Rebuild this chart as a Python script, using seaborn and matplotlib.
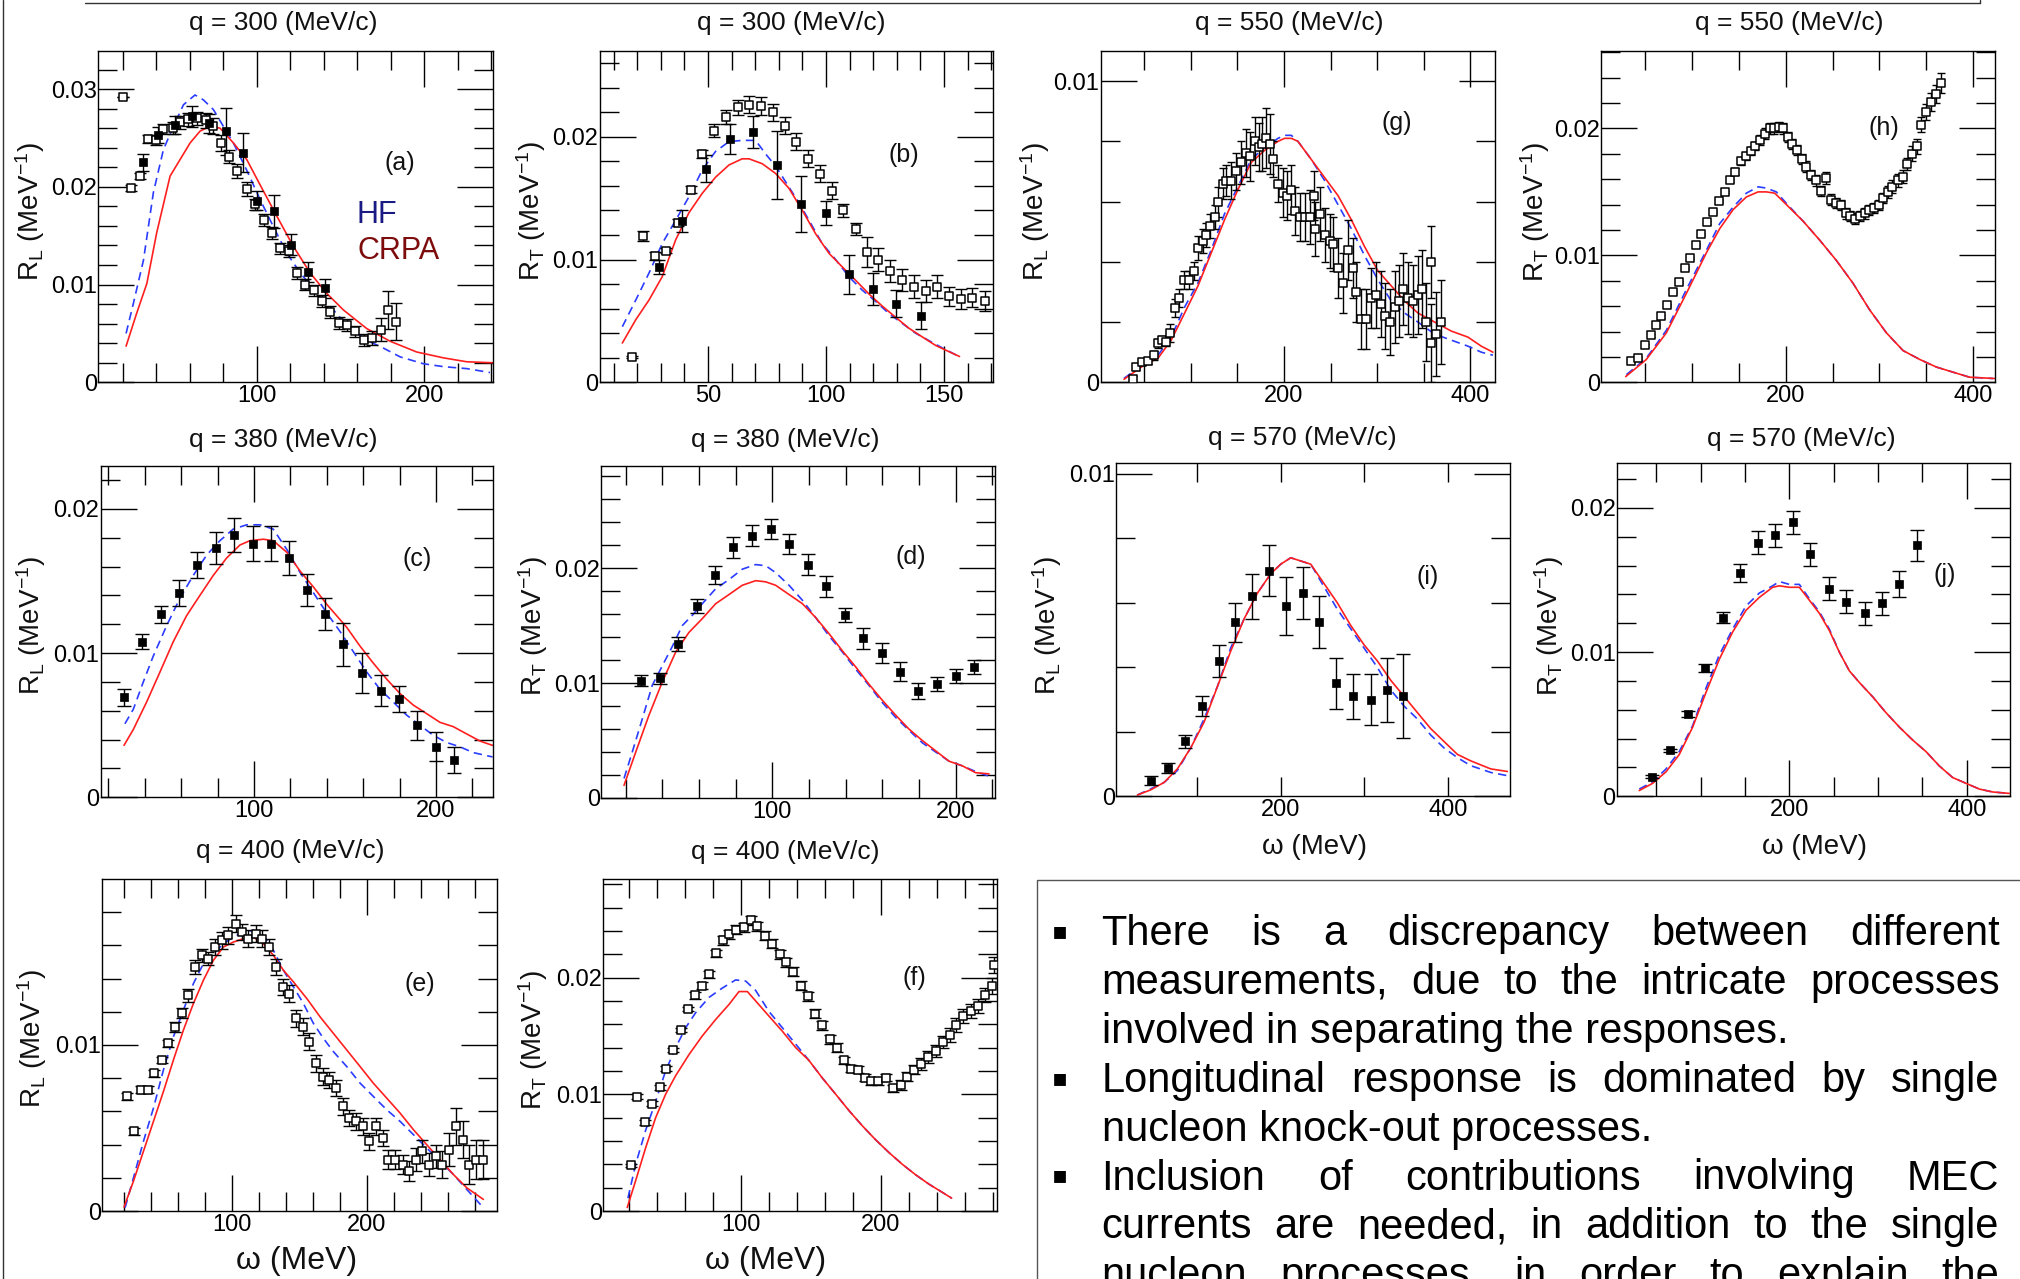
import numpy as np
import pandas as pd
import matplotlib
matplotlib.use("Agg")
import matplotlib.pyplot as plt
from matplotlib.transforms import IdentityTransform
from matplotlib.lines import Line2D
from matplotlib.ticker import MultipleLocator, FuncFormatter
import seaborn as sns

# ---------------------------------------------------------------- data
# (a) q=300 R_L
a_open_x = [20, 25, 30, 35, 40, 44, 50, 54, 59, 64.5, 69.5, 74, 78.5, 83.7, 88.4, 94, 99, 104.4, 109, 114, 119, 124, 129, 134, 139, 144, 149, 154, 159, 164, 169, 174, 178.5, 183.5]
a_open_y = [0.0292, 0.0199, 0.0211, 0.0249, 0.0248, 0.0259, 0.0260, 0.0266, 0.0269, 0.0270, 0.0268, 0.0262, 0.0245, 0.0231, 0.0216, 0.0198, 0.0182, 0.0166, 0.0153, 0.0137, 0.0134, 0.0112, 0.0100, 0.0094, 0.0083, 0.0072, 0.0061, 0.0059, 0.0052, 0.0043, 0.0045, 0.0054, 0.0074, 0.0062]
a_open_e = [0.0, 0.0003, 0.0003, 0.0004, 0.0005, 0.0005, 0.0006, 0.0007, 0.0007, 0.0007, 0.0008, 0.0008, 0.0008, 0.0007, 0.0007, 0.0007, 0.0006, 0.0006, 0.0006, 0.0006, 0.0006, 0.0006, 0.0006, 0.0006, 0.0006, 0.0006, 0.0006, 0.0006, 0.0006, 0.0006, 0.0007, 0.0012, 0.0019, 0.0019]
a_fill_x = [32, 41, 51, 61, 71.5, 81.5, 91.5, 100, 110.5, 120.5, 130.5, 141]
a_fill_y = [0.0225, 0.0253, 0.0263, 0.0272, 0.0265, 0.0257, 0.0235, 0.0186, 0.0175, 0.0141, 0.0113, 0.0096]
a_fill_e = [0.0009, 0.0008, 0.0009, 0.0011, 0.0010, 0.0024, 0.0020, 0.0010, 0.0017, 0.0011, 0.0010, 0.0010]
a_hf_x = [21.9, 26.3, 32.3, 38.2, 44.2, 50.2, 56.2, 63.1, 68.1, 74.1, 80, 86, 94, 102, 110, 118, 126, 136, 145.8, 155.8, 165.7, 175.7, 185.7, 199.6, 211.6, 225.5, 239.4]
a_hf_y = [0.0050, 0.0081, 0.0125, 0.0194, 0.0238, 0.0262, 0.0284, 0.0294, 0.0289, 0.0279, 0.0262, 0.0245, 0.0217, 0.0187, 0.0159, 0.0132, 0.0112, 0.0091, 0.0074, 0.0055, 0.0043, 0.0035, 0.0026, 0.0019, 0.0016, 0.0014, 0.0010]
a_rpa_x = [21.9, 28.3, 34.3, 40.2, 48.2, 54.2, 60.2, 66.1, 72.1, 78.1, 86, 94, 102, 112, 121.9, 131.9, 141.8, 151.8, 165.7, 179.7, 195.6, 211.6, 225.5, 241]
a_rpa_y = [0.0037, 0.0071, 0.0101, 0.0153, 0.0211, 0.0228, 0.0245, 0.0257, 0.0262, 0.0260, 0.0245, 0.0228, 0.0202, 0.0170, 0.0139, 0.0112, 0.0091, 0.0074, 0.0055, 0.0042, 0.0031, 0.0025, 0.0021, 0.0020]

# (b) q=300 R_T
b_open_x = [17.7, 22.5, 27.4, 32.3, 37.3, 42.7, 47.3, 52.4, 57.5, 62.6, 67.4, 72.5, 77.5, 82.5, 87.4, 92.5, 97.3, 102.4, 107.3, 112.6, 117.5, 122.2, 127.1, 132.3, 137.3, 142.2, 147.2, 152.1, 157.1, 162.0, 167.2]
b_open_y = [0.00204, 0.01194, 0.0103, 0.0107, 0.0130, 0.0157, 0.0186, 0.0205, 0.0216, 0.0224, 0.0226, 0.0225, 0.0220, 0.0209, 0.0196, 0.0182, 0.0170, 0.0156, 0.0140, 0.0125, 0.0106, 0.0100, 0.0091, 0.0083, 0.0078, 0.0074, 0.0078, 0.0070, 0.0068, 0.0069, 0.0066]
b_open_e = [0.0001, 0.0004, 0.0003, 0.0002, 0.0003, 0.0003, 0.0003, 0.0005, 0.0006, 0.0006, 0.0007, 0.0007, 0.0007, 0.0007, 0.0007, 0.0007, 0.0007, 0.0007, 0.0005, 0.0005, 0.0012, 0.0009, 0.0009, 0.0009, 0.0009, 0.0009, 0.0009, 0.0008, 0.0008, 0.0008, 0.0008]
b_fill_x = [29.2, 39.1, 49.3, 59.3, 69.2, 79.1, 89.3, 99.9, 109.7, 120.1, 129.8, 140.1]
b_fill_y = [0.0094, 0.0131, 0.0174, 0.0198, 0.0204, 0.0177, 0.0145, 0.0138, 0.0088, 0.0076, 0.0064, 0.0054]
b_fill_e = [0.0006, 0.0009, 0.0011, 0.0012, 0.0013, 0.0028, 0.0023, 0.0010, 0.0016, 0.0013, 0.0011, 0.0011]
b_hf_x = [13.7, 19.4, 25.0, 30.6, 36.3, 41.9, 47.6, 53.2, 58.9, 64.5, 70.2, 74.4, 78.7, 84.3, 88.6, 92.8, 98.4, 104.1, 109.7, 115.4, 121, 126.7, 132.3, 138, 143.6, 149.3, 156.4]
b_hf_y = [0.00453, 0.0067, 0.0089, 0.0113, 0.0132, 0.0151, 0.0173, 0.0188, 0.0196, 0.0197, 0.0197, 0.0186, 0.0176, 0.0159, 0.0146, 0.0132, 0.0113, 0.0100, 0.0086, 0.0075, 0.0066, 0.0056, 0.0048, 0.0040, 0.0034, 0.0028, 0.0021]
b_rpa_x = [13.7, 19.4, 25, 30.6, 36.3, 41.9, 47.6, 53.2, 58.9, 64.5, 67.4, 73, 78.7, 84.3, 90, 95.6, 101.3, 106.9, 112.6, 118.2, 123.9, 129.5, 135.2, 140.8, 146.5, 152.1, 156.6]
b_rpa_y = [0.0032, 0.0051, 0.0067, 0.0086, 0.0116, 0.0138, 0.0154, 0.0167, 0.0177, 0.0182, 0.0182, 0.0178, 0.0170, 0.0158, 0.0140, 0.0121, 0.0105, 0.0094, 0.0083, 0.0072, 0.0062, 0.0053, 0.0044, 0.0037, 0.0030, 0.0025, 0.0021]

# (g) q=550 R_L
g_open_x = [38, 41.5, 47.6, 54, 60.5, 64.8, 69.4, 73, 78, 83.4, 86.9, 92.3, 97.7, 103, 107.7, 113, 116.6, 120.9, 125.6, 129.2, 134.5, 138.1, 143.5, 148.8, 154.2, 159.6, 163.9, 168.5, 172.8, 176.7, 181, 184.6, 188.2, 193.6, 198.9, 203.6, 207.9, 211.4, 216.8, 222.2, 227.5, 232.2, 233, 238.3, 243.6, 249, 252.6, 258, 263.3, 268.7, 274, 277.6, 283, 288.4, 293.7, 299.1, 304.5, 308, 313.4, 318.7, 323.4, 327.7, 333, 338.5, 343.8, 348.5, 352.8, 357.4, 358.1, 363.5, 368.2]
g_open_y = [0.0001, 0.0005, 0.00066, 0.0007, 0.0009, 0.0013, 0.0014, 0.00135, 0.00165, 0.00246, 0.0028, 0.0034, 0.0034, 0.0037, 0.00445, 0.0047, 0.0049, 0.0052, 0.0055, 0.0060, 0.0066, 0.0067, 0.0067, 0.0070, 0.0073, 0.0076, 0.0075, 0.0080, 0.0078, 0.0079, 0.0081, 0.0079, 0.0074, 0.0066, 0.0063, 0.0062, 0.0064, 0.0057, 0.0055, 0.0055, 0.0055, 0.0062, 0.0051, 0.0056, 0.0049, 0.0047, 0.0046, 0.0038, 0.0033, 0.0044, 0.0038, 0.0030, 0.0021, 0.0021, 0.0028, 0.0029, 0.0026, 0.0022, 0.0020, 0.0025, 0.0027, 0.0031, 0.0028, 0.0027, 0.0029, 0.0031, 0.0020, 0.0040, 0.0013, 0.0016, 0.0020]
g_open_e = [0.0001, 0.0001, 0.0001, 0.0001, 0.00015, 0.00015, 0.00015, 0.00015, 0.0003, 0.0003, 0.0003, 0.0003, 0.0003, 0.0003, 0.0004, 0.0004, 0.0004, 0.0004, 0.0004, 0.0005, 0.0005, 0.0005, 0.0006, 0.0006, 0.0007, 0.0008, 0.0008, 0.0008, 0.0008, 0.0009, 0.0010, 0.0010, 0.0006, 0.0006, 0.0008, 0.0008, 0.0008, 0.0008, 0.0008, 0.0008, 0.0009, 0.0008, 0.0009, 0.0009, 0.0009, 0.0009, 0.0009, 0.0010, 0.0010, 0.0010, 0.0010, 0.0010, 0.0010, 0.0010, 0.0010, 0.0011, 0.0011, 0.0011, 0.0011, 0.0012, 0.0012, 0.0012, 0.0012, 0.0012, 0.0013, 0.0013, 0.0013, 0.0012, 0.0013, 0.0014, 0.0014]
g_hf_x = [28.3, 50.4, 64.8, 79, 93.4, 107.7, 122, 136.3, 150.6, 164.9, 179.2, 193.6, 200.7, 207.9, 215, 229.3, 243.6, 258, 272.3, 286.6, 300.9, 315.2, 329.5, 343.8, 361.7, 379.6, 397.5, 411.8, 424.3]
g_hf_y = [0.00013, 0.00063, 0.0009, 0.0015, 0.0025, 0.0033, 0.0044, 0.0056, 0.0065, 0.0074, 0.0078, 0.0081, 0.0082, 0.0082, 0.0080, 0.0074, 0.0067, 0.0059, 0.0051, 0.0042, 0.0034, 0.0027, 0.0023, 0.0020, 0.0016, 0.0014, 0.0012, 0.0010, 0.0009]
g_rpa_x = [28.3, 50.4, 64.8, 79, 93.4, 107.7, 122, 136.3, 150.6, 164.9, 179.2, 193.6, 200.7, 207.9, 215, 229.3, 243.6, 258, 272.3, 286.6, 300.9, 315.2, 329.5, 343.8, 361.7, 379.6, 397.5, 411.8, 424.3]
g_rpa_y = [0.0001, 0.00058, 0.0008, 0.0014, 0.0023, 0.0032, 0.0043, 0.0054, 0.0064, 0.0073, 0.0077, 0.0080, 0.0081, 0.0081, 0.0080, 0.0074, 0.0068, 0.0062, 0.0054, 0.0045, 0.0037, 0.0032, 0.0027, 0.0023, 0.0020, 0.0017, 0.0015, 0.0012, 0.0010]

# (h) q=550 R_T
h_open_x = [35.2, 42.3, 49.5, 55.9, 61.9, 67.3, 73.3, 79.7, 85.8, 92.2, 98.2, 103.9, 110, 116, 122.4, 128.5, 134.9, 140.2, 145.6, 152.7, 158, 163.3, 167.6, 172.2, 177.6, 182.9, 187.5, 192.5, 197.2, 202.5, 207.1, 212.1, 217.1, 222.1, 227.4, 232.7, 238.1, 242.7, 248, 254.1, 259.4, 264.1, 269, 274.4, 279, 284.3, 289, 294, 299.3, 303.9, 309.3, 313.9, 319.9, 325.3, 329.9, 335.2, 340.2, 344.8, 350.2, 355.5, 360.9, 366.2]
h_open_y = [0.0017, 0.0019, 0.0029, 0.0037, 0.0045, 0.0052, 0.0061, 0.0071, 0.0079, 0.0090, 0.0098, 0.0108, 0.0117, 0.0126, 0.0134, 0.0143, 0.0150, 0.0159, 0.0166, 0.0174, 0.0178, 0.0182, 0.0186, 0.0191, 0.0196, 0.0200, 0.0200, 0.0201, 0.0200, 0.0193, 0.0188, 0.0183, 0.0176, 0.0170, 0.0163, 0.0159, 0.0151, 0.0161, 0.0144, 0.0141, 0.0140, 0.0133, 0.0131, 0.0129, 0.0131, 0.0133, 0.0136, 0.0137, 0.0140, 0.0145, 0.0150, 0.0154, 0.0159, 0.0162, 0.0172, 0.0180, 0.0186, 0.0203, 0.0213, 0.0221, 0.0227, 0.0236]
h_open_e = [0.0001] * 18 + [0.0003, 0.0003, 0.0003, 0.0003, 0.0003, 0.0004, 0.0004, 0.0004, 0.0004, 0.0004, 0.0004, 0.0004, 0.0004, 0.0004, 0.0004, 0.0004, 0.0004, 0.0004, 0.0004, 0.0005, 0.0004, 0.0004, 0.0004, 0.0004, 0.0004, 0.0004, 0.0004, 0.0004, 0.0004, 0.0004, 0.0004, 0.0004, 0.0005, 0.0005, 0.0005, 0.0005, 0.0005, 0.0006, 0.0006, 0.0006, 0.0006, 0.0007, 0.0007, 0.0008]
h_hf_x = [29.9, 51.2, 72.6, 93.9, 115.3, 129.5, 143.8, 158, 170.5, 179.4, 190, 200.7, 218.5, 236.3, 254.1, 271.9, 289.7, 307.5, 325.3, 343.1, 360.9, 378.6, 396.4, 421.4]
h_hf_y = [0.0006, 0.0019, 0.0041, 0.0073, 0.0104, 0.0125, 0.0138, 0.0149, 0.0154, 0.0153, 0.0150, 0.0141, 0.0127, 0.0112, 0.0096, 0.0078, 0.0057, 0.0039, 0.0025, 0.0018, 0.0012, 0.0008, 0.0004, 0.0003]
h_rpa_x = [29.2, 51.2, 72.6, 93.9, 115.3, 129.5, 143.8, 158, 170.5, 179.4, 188.3, 200.7, 218.5, 236.3, 254.1, 271.9, 289.7, 307.5, 325.3, 343.1, 360.9, 378.6, 396.4, 423]
h_rpa_y = [0.00045, 0.0018, 0.0039, 0.0070, 0.0102, 0.0121, 0.0136, 0.0146, 0.0150, 0.0150, 0.0149, 0.0140, 0.0127, 0.0112, 0.0096, 0.0078, 0.0057, 0.0039, 0.0025, 0.0018, 0.0012, 0.0008, 0.0004, 0.0003]

# (c) q=380 R_L
c_fill_x = [28.6, 38.6, 48.7, 58.8, 68.9, 79.1, 89.2, 99.6, 109.2, 119.2, 128.9, 139, 149.1, 159.5, 169.6, 179.7, 189.7, 199.8, 209.9]
c_fill_y = [0.00694, 0.0108, 0.0127, 0.0142, 0.0161, 0.0173, 0.0182, 0.0176, 0.0176, 0.0166, 0.0144, 0.0127, 0.0106, 0.0086, 0.0074, 0.0068, 0.0050, 0.0035, 0.0026]
c_fill_e = [0.0006, 0.0005, 0.0006, 0.0009, 0.0009, 0.0011, 0.0012, 0.0012, 0.0012, 0.0012, 0.0011, 0.0011, 0.0015, 0.0014, 0.0011, 0.0009, 0.0010, 0.0010, 0.0009]
c_hf_x = [29.1, 33.7, 39.2, 44.7, 52, 59.3, 66.7, 74, 81.3, 88.6, 96, 103.3, 110.6, 118, 125.3, 132.6, 139.9, 147.3, 154.6, 161.9, 169.2, 176.6, 183.9, 191.2, 198.5, 205.9, 213.2, 220.5, 231.1]
c_hf_y = [0.0051, 0.0061, 0.0080, 0.0098, 0.0119, 0.0138, 0.0154, 0.0168, 0.0178, 0.0186, 0.0189, 0.0189, 0.0186, 0.0172, 0.0156, 0.0142, 0.0128, 0.0115, 0.0101, 0.0087, 0.0075, 0.0066, 0.0057, 0.0050, 0.0043, 0.0038, 0.0035, 0.0031, 0.0028]
c_rpa_x = [28.6, 33.7, 41, 48.4, 55.7, 63, 70.3, 77.7, 85, 92.3, 97.8, 105.1, 110.6, 118, 125.3, 132.6, 139.9, 150.9, 158.2, 165.6, 172.9, 180.2, 187.5, 194.9, 202.2, 209.5, 216.8, 224.2, 231.1]
c_rpa_y = [0.0036, 0.0047, 0.0066, 0.0087, 0.0108, 0.0126, 0.0140, 0.0154, 0.0166, 0.0175, 0.0178, 0.0179, 0.0178, 0.0170, 0.0157, 0.0146, 0.0134, 0.0118, 0.0105, 0.0093, 0.0082, 0.0072, 0.0064, 0.0058, 0.0052, 0.0049, 0.0044, 0.0039, 0.0036]

# (d) q=380 R_T
d_fill_x = [28.5, 38.5, 48.7, 58.7, 68.7, 78.7, 89.1, 99.1, 109.1, 119.5, 129.5, 139.5, 149.5, 159.6, 169.6, 179.6, 189.6, 200, 210]
d_fill_y = [0.0102, 0.0104, 0.0134, 0.0167, 0.0194, 0.0218, 0.0228, 0.0234, 0.0221, 0.0203, 0.0184, 0.0159, 0.0139, 0.0126, 0.0110, 0.0093, 0.0099, 0.0106, 0.0114]
d_fill_e = [0.0005, 0.0005, 0.0006, 0.0006, 0.0008, 0.0009, 0.0009, 0.0009, 0.0009, 0.0009, 0.0009, 0.0006, 0.0009, 0.0009, 0.0008, 0.0007, 0.0006, 0.0006, 0.0006]
d_hf_x = [19.1, 23.6, 29.1, 34.5, 40, 45.5, 50.9, 56.4, 61.8, 69.1, 76.4, 83.6, 90.9, 96.4, 101.8, 109.1, 116.4, 123.6, 130.9, 138.2, 145.5, 152.7, 160, 167.3, 174.5, 181.8, 189.1, 196.4, 203.6, 210.9, 220]
d_hf_y = [0.0017, 0.0040, 0.0069, 0.0098, 0.0115, 0.0132, 0.0150, 0.0159, 0.0169, 0.0182, 0.0190, 0.0199, 0.0203, 0.0202, 0.0196, 0.0185, 0.0172, 0.0157, 0.0141, 0.0127, 0.0112, 0.0098, 0.0083, 0.0070, 0.0059, 0.0048, 0.0040, 0.0032, 0.0028, 0.0023, 0.0018]
d_rpa_x = [19.1, 25.5, 32.7, 40, 47.3, 54.5, 61.8, 69.1, 76.4, 83.6, 90.9, 96.4, 101.8, 109.1, 116.4, 123.6, 130.9, 138.2, 145.5, 152.7, 160, 167.3, 174.5, 181.8, 189.1, 196.4, 203.6, 210.9, 218.2]
d_rpa_y = [0.0011, 0.0040, 0.0072, 0.0101, 0.0127, 0.0144, 0.0156, 0.0169, 0.0177, 0.0185, 0.0189, 0.0188, 0.0185, 0.0177, 0.0169, 0.0157, 0.0143, 0.0128, 0.0114, 0.0099, 0.0085, 0.0072, 0.0060, 0.0050, 0.0041, 0.0032, 0.0028, 0.0022, 0.0021]

# (i) q=570 R_L
i_fill_x = [44.6, 65.3, 85.7, 105.6, 125.9, 145.4, 165.7, 186.1, 206.8, 226.7, 245.8, 266.5, 286.5, 307.6, 327.5, 346.2]
i_fill_y = [0.00049, 0.00088, 0.0017, 0.0028, 0.0042, 0.0054, 0.0062, 0.0070, 0.0059, 0.0063, 0.0054, 0.0035, 0.0031, 0.0030, 0.0033, 0.0031]
i_fill_e = [0.00013, 0.00015, 0.0002, 0.0003, 0.0005, 0.0006, 0.0007, 0.0008, 0.0009, 0.0008, 0.0008, 0.0008, 0.0007, 0.0008, 0.0010, 0.0013]
i_hf_x = [28.7, 44.6, 60.6, 76.5, 92.4, 108.4, 124.3, 140.2, 156.2, 172.1, 188, 200, 212, 223.9, 235.9, 251.8, 267.7, 283.7, 299.6, 315.5, 331.5, 347.4, 363.3, 379.3, 395.2, 411.2, 427.1, 451, 470.9]
i_hf_y = [0.00004, 0.00023, 0.00043, 0.0008, 0.0015, 0.0024, 0.0034, 0.0046, 0.0055, 0.0063, 0.0069, 0.0072, 0.0074, 0.0073, 0.0072, 0.0065, 0.0058, 0.0052, 0.0046, 0.0040, 0.0033, 0.0028, 0.0024, 0.0019, 0.0015, 0.0012, 0.00095, 0.00074, 0.00064]
i_rpa_x = [28.7, 44.6, 60.6, 76.5, 92.4, 108.4, 124.3, 140.2, 156.2, 172.1, 188, 200, 212, 235.9, 251.8, 267.7, 283.7, 299.6, 315.5, 331.5, 347.4, 363.3, 379.3, 395.2, 411.2, 427.1, 451, 470.9]
i_rpa_y = [0.00004, 0.0002, 0.00043, 0.00085, 0.0015, 0.0023, 0.0034, 0.0045, 0.0055, 0.0063, 0.0069, 0.0072, 0.0074, 0.0072, 0.0066, 0.0060, 0.0053, 0.0047, 0.0042, 0.0036, 0.0031, 0.0026, 0.0021, 0.0017, 0.0013, 0.0011, 0.00085, 0.00077]

# (j) q=570 R_T
j_fill_x = [45.1, 65.8, 85.3, 105.3, 125.6, 144.4, 165, 183.8, 204.5, 223.7, 244.4, 263.9, 285.3, 304.1, 324.1, 343.6]
j_fill_y = [0.00137, 0.0032, 0.0057, 0.0089, 0.0124, 0.0155, 0.0176, 0.0181, 0.0190, 0.0168, 0.0144, 0.0135, 0.0127, 0.0134, 0.0147, 0.0174]
j_fill_e = [0.0001, 0.0001, 0.0002, 0.0003, 0.0004, 0.0006, 0.0008, 0.0008, 0.0008, 0.0008, 0.0008, 0.0008, 0.0008, 0.0008, 0.0009, 0.0011]
j_hf_x = [30.8, 45.9, 61, 75.9, 91, 106, 121, 136.1, 151.1, 166.2, 181.2, 188.7, 200, 211.3, 222.6, 233.8, 245.1, 256.4, 267.7, 278.9, 294, 309, 324.1, 339.1, 354.1, 369.2, 384.2, 399.2, 414.3, 429.3, 448.1]
j_hf_y = [0.0005, 0.0010, 0.0019, 0.0031, 0.0049, 0.0075, 0.0098, 0.0116, 0.0132, 0.0141, 0.0146, 0.0149, 0.0147, 0.0147, 0.0137, 0.0128, 0.0116, 0.0100, 0.0087, 0.0079, 0.0069, 0.0058, 0.0048, 0.0039, 0.0031, 0.0021, 0.0013, 0.0009, 0.0005, 0.0003, 0.0002]
j_rpa_x = [30.8, 45.9, 61, 75.9, 91, 106, 121, 136.1, 151.1, 166.2, 181.2, 188.7, 200, 211.3, 222.6, 233.8, 245.1, 256.4, 267.7, 278.9, 294, 309, 324.1, 339.1, 354.1, 369.2, 384.2, 399.2, 414.3, 429.3, 448.1]
j_rpa_y = [0.0004, 0.0009, 0.0017, 0.0029, 0.0048, 0.0072, 0.0095, 0.0114, 0.0129, 0.0138, 0.0145, 0.0146, 0.0145, 0.0145, 0.0136, 0.0127, 0.0115, 0.0100, 0.0087, 0.0079, 0.0069, 0.0058, 0.0048, 0.0039, 0.0031, 0.0021, 0.0013, 0.0009, 0.0005, 0.0003, 0.0002]

# (e) q=400 R_L
e_open_x = [22.7, 27.9, 32.6, 38.3, 42.7, 48.1, 53.1, 58, 63, 67.9, 72.8, 77.8, 82.7, 87.7, 92.6, 97.5, 103, 107.9, 112.3, 117.8, 122.7, 127.9, 132.6, 137.8, 142.7, 147.7, 152.6, 157.5, 162.5, 167.4, 172.3, 177.3, 182.2, 187.2, 192.1, 197, 202, 206.9, 211.9, 216, 221, 226.7, 231.4, 236.3, 241.2, 246.2, 251.1, 256, 261, 266.2, 271.1, 276, 281, 285.9]
e_open_y = [0.0069, 0.0048, 0.0073, 0.0073, 0.0083, 0.0091, 0.0101, 0.0111, 0.0119, 0.0130, 0.0147, 0.0154, 0.0152, 0.0159, 0.0163, 0.0166, 0.0173, 0.0168, 0.0164, 0.0167, 0.0164, 0.0159, 0.0147, 0.0135, 0.0131, 0.0116, 0.0111, 0.0102, 0.0089, 0.0081, 0.0079, 0.0074, 0.0063, 0.0056, 0.0054, 0.0051, 0.0042, 0.0051, 0.0044, 0.0031, 0.0031, 0.0028, 0.0024, 0.0031, 0.0036, 0.0028, 0.0033, 0.0028, 0.0037, 0.0051, 0.0043, 0.0028, 0.0031, 0.0031]
e_open_e = [0.0002, 0.0002, 0.0002, 0.0002, 0.0002, 0.0002, 0.0002, 0.0003, 0.0003, 0.0004, 0.0004, 0.0004, 0.0004, 0.0005, 0.0005, 0.0005, 0.0005, 0.0005, 0.0005, 0.0005, 0.0005, 0.0005, 0.0005, 0.0005, 0.0005, 0.0005, 0.0005, 0.0005, 0.0005, 0.0005, 0.0005, 0.0005, 0.0005, 0.0005, 0.0005, 0.0005, 0.0005, 0.0005, 0.0005, 0.0006, 0.0006, 0.0006, 0.0006, 0.0007, 0.0007, 0.0007, 0.0007, 0.0008, 0.0010, 0.0011, 0.0011, 0.0012, 0.0012, 0.0012]
e_hf_x = [21, 27.2, 34.6, 42, 49.4, 56.8, 64.2, 71.6, 79, 86.4, 93.8, 101.2, 108.6, 116, 123.5, 130.9, 138.3, 145.7, 153.1, 160.5, 167.9, 175.3, 185.2, 195.1, 204.9, 214.8, 224.7, 234.6, 244.4, 254.3, 264.2, 274.1, 286.4]
e_hf_y = [0.0002, 0.0020, 0.0042, 0.0062, 0.0085, 0.0105, 0.0121, 0.0137, 0.0149, 0.0155, 0.0161, 0.0165, 0.0168, 0.0169, 0.0166, 0.0157, 0.0145, 0.0135, 0.0125, 0.0113, 0.0104, 0.0096, 0.0087, 0.0077, 0.0069, 0.0061, 0.0054, 0.0046, 0.0038, 0.0030, 0.0022, 0.0013, 0.0002]
e_rpa_x = [20.2, 27.2, 34.6, 42, 49.4, 56.8, 64.2, 71.6, 79, 86.4, 93.8, 101.2, 108.6, 116, 123.5, 130.9, 138.3, 145.7, 155.6, 165.4, 175.3, 185.2, 195.1, 204.9, 214.8, 224.7, 234.6, 244.4, 254.3, 264.2, 274.1, 286.4]
e_rpa_y = [0.00024, 0.0018, 0.0036, 0.0054, 0.0072, 0.0091, 0.0109, 0.0125, 0.0139, 0.0151, 0.0159, 0.0162, 0.0164, 0.0165, 0.0161, 0.0154, 0.0145, 0.0138, 0.0128, 0.0117, 0.0107, 0.0097, 0.0087, 0.0077, 0.0068, 0.0059, 0.0049, 0.0040, 0.0031, 0.0022, 0.0014, 0.0007]

# (f) q=400 R_T
f_open_x = [21.4, 25.7, 31.7, 36.9, 42.1, 46.4, 51.9, 57.1, 62.4, 67.1, 72.1, 77.4, 82.6, 87.4, 91.7, 96.9, 102.4, 107.6, 111.9, 117.1, 122.6, 127.9, 132.6, 137.6, 142.9, 148.1, 153.1, 158.3, 163.6, 168.6, 173.8, 178.6, 183.8, 188.6, 192.9, 198.1, 203.6, 209, 214.3, 218.6, 223.8, 229, 234, 239.3, 244.5, 249.3, 253.6, 258.8, 264.3, 269.5, 274.5, 279.3, 281]
f_open_y = [0.0039, 0.0098, 0.0076, 0.0092, 0.0106, 0.0122, 0.0138, 0.0155, 0.0173, 0.0185, 0.0193, 0.0203, 0.0221, 0.0232, 0.0237, 0.0241, 0.0243, 0.0249, 0.0244, 0.0236, 0.0229, 0.0220, 0.0213, 0.0205, 0.0193, 0.0184, 0.0169, 0.0159, 0.0147, 0.0140, 0.0129, 0.0122, 0.0121, 0.0114, 0.0111, 0.0111, 0.0114, 0.0105, 0.0108, 0.0115, 0.0121, 0.0126, 0.0132, 0.0137, 0.0145, 0.0151, 0.0159, 0.0167, 0.0171, 0.0176, 0.0185, 0.0193, 0.0211]
f_open_e = [0.0001, 0.0002, 0.0002, 0.0002, 0.0002, 0.0002, 0.0002, 0.0002, 0.0002, 0.0003, 0.0003, 0.0003, 0.0003, 0.0004, 0.0004, 0.0004, 0.0004, 0.0004, 0.0004, 0.0004, 0.0004, 0.0004, 0.0004, 0.0004, 0.0004, 0.0004, 0.0004, 0.0004, 0.0004, 0.0004, 0.0003, 0.0003, 0.0003, 0.0003, 0.0003, 0.0003, 0.0003, 0.0003, 0.0004, 0.0004, 0.0004, 0.0005, 0.0005, 0.0005, 0.0005, 0.0006, 0.0006, 0.0006, 0.0006, 0.0006, 0.0006, 0.0007, 0.0007]
f_hf_x = [19.5, 25, 32.1, 39.3, 46.4, 53.6, 60.7, 67.9, 77.4, 86.9, 96.4, 103.6, 110.7, 120.2, 129.8, 139.3, 148.8, 158.3, 167.9, 177.4, 186.9, 196.4, 206, 215.5, 225, 234.5, 244, 250.7]
f_hf_y = [0.0011, 0.0040, 0.0069, 0.0094, 0.0120, 0.0140, 0.0157, 0.0170, 0.0183, 0.0191, 0.0198, 0.0197, 0.0189, 0.0171, 0.0157, 0.0143, 0.0129, 0.0114, 0.0100, 0.0086, 0.0073, 0.0061, 0.0050, 0.0040, 0.0031, 0.0023, 0.0016, 0.0011]
f_rpa_x = [19, 25, 32.1, 39.3, 46.4, 53.6, 63.1, 72.6, 82.1, 91.7, 98.8, 104.8, 110.7, 120.2, 129.8, 139.3, 148.8, 158.3, 167.9, 177.4, 186.9, 196.4, 206, 215.5, 225, 234.5, 244, 250.7]
f_rpa_y = [0.0003, 0.0026, 0.0054, 0.0080, 0.0100, 0.0116, 0.0134, 0.0150, 0.0164, 0.0177, 0.0188, 0.0188, 0.0180, 0.0167, 0.0154, 0.0140, 0.0129, 0.0114, 0.0100, 0.0086, 0.0073, 0.0061, 0.0050, 0.0040, 0.0031, 0.0023, 0.0016, 0.0011]

titles = ["q = 300 (MeV/c)", "q = 300 (MeV/c)", "q = 550 (MeV/c)", "q = 550 (MeV/c)",
          "q = 380 (MeV/c)", "q = 380 (MeV/c)", "q = 570 (MeV/c)", "q = 570 (MeV/c)",
          "q = 400 (MeV/c)", "q = 400 (MeV/c)"]
panel_tags = ["(a)", "(b)", "(g)", "(h)", "(c)", "(d)", "(i)", "(j)", "(e)", "(f)"]
resp = ["L", "T", "L", "T", "L", "T", "L", "T", "L", "T"]
legend_names = ["HF", "CRPA"]
bullets = [
    ["There is a discrepancy between different",
     "measurements, due to the intricate processes",
     "involved in separating the responses."],
    ["Longitudinal response is dominated by single",
     "nucleon knock-out processes."],
    ["Inclusion of contributions involving MEC",
     "currents are needed, in addition to the single",
     "nucleon processes, in order to explain the"],
]

# ---------------------------------------------------------------- style
sns.set_style("ticks")
plt.rcParams["font.family"] = ["Liberation Sans", "DejaVu Sans"]
plt.rcParams["mathtext.fontset"] = "custom"
plt.rcParams["mathtext.rm"] = "Liberation Sans"
plt.rcParams["mathtext.it"] = "Liberation Sans:italic"
plt.rcParams["mathtext.bf"] = "Liberation Sans:bold"

W, H = 2020, 1279
fig = plt.figure(figsize=(W / 100, H / 100), dpi=100)
fig.patch.set_facecolor("white")

BLUE = "#2a3cff"
RED = "#ff1f1f"

layout = [
    dict(box=(98.3, 51, 492.7, 382.3), xlim=(5.3, 241), ylim=(0, 0.0339), xmaj=100, xmin=20, cap=4.0,
         tc=(283, 23), yc=(30, 212), tag=(185.7, 0.0224)),
    dict(box=(599.7, 51, 993, 382.3), xlim=(4.1, 170.8), ylim=(0, 0.02698), xmaj=50, xmin=10, cap=4.5,
         tc=(791.7, 23), yc=(531, 211), tag=(133, 0.0185)),
    dict(box=(1100.7, 51, 1494.7, 382.3), xlim=(3.3, 426.2), ylim=(0, 0.0110), xmaj=200, xmin=50, cap=3.0,
         tc=(1289.7, 23), yc=(1035, 212), tag=(320.6, 0.0086)),
    dict(box=(1601.3, 51, 1995.3, 382.3), xlim=(3.1, 423.8), ylim=(0, 0.0261), xmaj=200, xmin=50, cap=3.0,
         tc=(1789.7, 23), yc=(1535, 212), tag=(304.6, 0.0200)),
    dict(box=(100.7, 465.7, 493.3, 797.3), xlim=(15.8, 231.5), ylim=(0, 0.0230), xmaj=100, xmin=20, cap=5.0,
         tc=(283, 440), yc=(31, 626), tag=(189.7, 0.01655)),
    dict(box=(601.3, 465.7, 994.7, 798), xlim=(6.7, 221.3), ylim=(0, 0.0289), xmaj=100, xmin=20, cap=5.0,
         tc=(785.7, 440), yc=(533, 626), tag=(175.5, 0.02093)),
    dict(box=(1116.3, 463.3, 1509.7, 796.3), xlim=(3.5, 473.7), ylim=(0, 0.01033), xmaj=200, xmin=100, cap=5.0,
         tc=(1302, 438), yc=(1047, 626), tag=(376.1, 0.00679), xl=(1314, 847, 20), xshort=True),
    dict(box=(1617, 463.3, 2010, 796.3), xlim=(5.7, 448.8), ylim=(0, 0.0231), xmaj=200, xmin=50, cap=5.0,
         tc=(1801, 439), yc=(1549, 626), tag=(374.8, 0.01532), xl=(1814, 847, 20)),
    dict(box=(102.3, 879.3, 496.7, 1211), xlim=(4.1, 296.3), ylim=(0, 0.01998), xmaj=100, xmin=20, cap=4.0,
         tc=(290, 851), yc=(32, 1039), tag=(239.5, 0.01368), xl=(297, 1261, 23)),
    dict(box=(603.3, 879.3, 997.3, 1211), xlim=(1.9, 283.3), ylim=(0, 0.02842), xmaj=100, xmin=20, cap=4.0,
         tc=(785.7, 852), yc=(533, 1040), tag=(223.8, 0.0200), xl=(766, 1261, 23)),
]

series = [
    dict(o=(a_open_x, a_open_y, a_open_e), f=(a_fill_x, a_fill_y, a_fill_e), hf=(a_hf_x, a_hf_y), rpa=(a_rpa_x, a_rpa_y)),
    dict(o=(b_open_x, b_open_y, b_open_e), f=(b_fill_x, b_fill_y, b_fill_e), hf=(b_hf_x, b_hf_y), rpa=(b_rpa_x, b_rpa_y)),
    dict(o=(g_open_x, g_open_y, g_open_e), f=None, hf=(g_hf_x, g_hf_y), rpa=(g_rpa_x, g_rpa_y)),
    dict(o=(h_open_x, h_open_y, h_open_e), f=None, hf=(h_hf_x, h_hf_y), rpa=(h_rpa_x, h_rpa_y)),
    dict(o=None, f=(c_fill_x, c_fill_y, c_fill_e), hf=(c_hf_x, c_hf_y), rpa=(c_rpa_x, c_rpa_y)),
    dict(o=None, f=(d_fill_x, d_fill_y, d_fill_e), hf=(d_hf_x, d_hf_y), rpa=(d_rpa_x, d_rpa_y)),
    dict(o=None, f=(i_fill_x, i_fill_y, i_fill_e), hf=(i_hf_x, i_hf_y), rpa=(i_rpa_x, i_rpa_y)),
    dict(o=None, f=(j_fill_x, j_fill_y, j_fill_e), hf=(j_hf_x, j_hf_y), rpa=(j_rpa_x, j_rpa_y)),
    dict(o=(e_open_x, e_open_y, e_open_e), f=None, hf=(e_hf_x, e_hf_y), rpa=(e_rpa_x, e_rpa_y)),
    dict(o=(f_open_x, f_open_y, f_open_e), f=None, hf=(f_hf_x, f_hf_y), rpa=(f_rpa_x, f_rpa_y)),
]

yfmt = FuncFormatter(lambda v, p: "0" if abs(v) < 1e-9 else f"{v:.2f}")
xfmt = FuncFormatter(lambda v, p: f"{v:.0f}")

for k, (lay, ser) in enumerate(zip(layout, series)):
    l, t, r, b = lay["box"]
    ax = fig.add_axes([l / W, 1 - b / H, (r - l) / W, (b - t) / H])
    ax.set_facecolor("white")

    df_hf = pd.DataFrame({"w": ser["hf"][0], "R": ser["hf"][1]})
    df_rpa = pd.DataFrame({"w": ser["rpa"][0], "R": ser["rpa"][1]})
    sns.lineplot(data=df_hf, x="w", y="R", ax=ax, color=BLUE, lw=1.2, linestyle=(0, (5, 3.2)),
                 estimator=None, sort=False, zorder=2)
    sns.lineplot(data=df_rpa, x="w", y="R", ax=ax, color=RED, lw=1.2,
                 estimator=None, sort=False, zorder=2.1)

    if ser["o"] is not None:
        ox, oy, oe = ser["o"]
        ax.errorbar(ox, oy, yerr=oe, fmt="none", ecolor="black", elinewidth=1.0,
                    capsize=lay["cap"], capthick=1.0, zorder=3)
        sns.scatterplot(x=ox, y=oy, ax=ax, marker="s", s=40, color="white",
                        edgecolor="black", linewidth=1.1, zorder=4)
    if ser["f"] is not None:
        fx, fy, fe = ser["f"]
        ax.errorbar(fx, fy, yerr=fe, fmt="none", ecolor="black", elinewidth=1.0,
                    capsize=lay["cap"], capthick=1.0, zorder=3)
        sns.scatterplot(x=fx, y=fy, ax=ax, marker="s", s=26, color="black",
                        edgecolor="black", linewidth=0.5, zorder=5)

    ax.set_xlim(*lay["xlim"])
    ax.set_ylim(*lay["ylim"])
    ax.set_xlabel("")
    ax.set_ylabel("")
    ax.xaxis.set_major_locator(MultipleLocator(lay["xmaj"]))
    ax.xaxis.set_minor_locator(MultipleLocator(lay["xmin"]))
    ax.yaxis.set_major_locator(MultipleLocator(0.01))
    ax.yaxis.set_minor_locator(MultipleLocator(0.002))
    ax.xaxis.set_major_formatter(xfmt)
    ax.yaxis.set_major_formatter(yfmt)
    ax.tick_params(which="both", direction="in", top=True, right=True, width=1.0,
                   colors="black", labelsize=17)
    ax.tick_params(which="major", length=26)
    ax.tick_params(which="minor", length=13.5)
    if lay.get("xshort"):
        ax.tick_params(axis="x", which="major", length=13.5)
    ax.tick_params(axis="x", pad=2.3)
    ax.tick_params(axis="y", pad=1)
    for s in ax.spines.values():
        s.set_linewidth(1.0)
        s.set_color("black")
        s.set_visible(True)

    ax.text(lay["tag"][0], lay["tag"][1], panel_tags[k], fontsize=18, ha="center", va="center", color="#111111")

    fig.text(lay["tc"][0] / W, 1 - lay["tc"][1] / H, titles[k], fontsize=19, ha="center", va="center", color="#111111")
    ylab = "R$_{\\mathrm{%s}}$ (MeV$^{\\mathrm{-1}}$)" % resp[k]
    fig.text(lay["yc"][0] / W, 1 - lay["yc"][1] / H, ylab, fontsize=20, rotation=90,
             ha="center", va="center", color="#111111")
    if "xl" in lay:
        xx, yy, fs = lay["xl"]
        fig.text(xx / W, 1 - yy / H, "ω (MeV)", fontsize=fs, ha="center", va="center", color="#111111")

    if k == 0:
        ax.text(171.7, 0.01713, legend_names[0], fontsize=22, color="#1a1a85", ha="center", va="center")
        ax.text(184.7, 0.01348, legend_names[1], fontsize=22, color="#7d0d0d", ha="center", va="center")

# ---------------------------------------------------------------- frame lines
idt = IdentityTransform()
fig.add_artist(Line2D([85, 1980], [H - 2.5, H - 2.5], transform=idt, color="#333333", lw=1.0))
fig.add_artist(Line2D([1980, 1980], [H - 2.5, H], transform=idt, color="#333333", lw=1.0))
fig.add_artist(Line2D([3, 3], [0, H], transform=idt, color="#333333", lw=1.0))
fig.add_artist(Line2D([1036.5, 1036.5, W], [0, H - 879.5, H - 879.5], transform=idt, color="#555555", lw=1.0))

# ---------------------------------------------------------------- bullet text
renderer = fig.canvas.get_renderer()
FS = 30
X0, X1 = 1101.5, 1999.5
BASE0, STEP = 945, 48.9


def place_line(text, ybase, justify):
    y = H - ybase
    if not justify:
        fig.text(X0, y, text, transform=idt, fontsize=FS, ha="left", va="baseline", color="black")
        return
    words = text.split(" ")
    objs = [fig.text(0, y, w, transform=idt, fontsize=FS, ha="left", va="baseline", color="black") for w in words]
    widths = [o.get_window_extent(renderer).width for o in objs]
    gap = (X1 - X0 - sum(widths)) / (len(words) - 1)
    x = X0
    for o, wd in zip(objs, widths):
        o.set_x(x)
        x += wd + gap


row = 0
last_lines = {(0, 2), (1, 1)}
for bi, lines in enumerate(bullets):
    for li, line in enumerate(lines):
        yb = BASE0 + STEP * row
        if li == 0:
            fig.text(1060, H - (yb - 14), "▪", transform=idt, fontsize=17, ha="center", va="center",
                     family=["DejaVu Sans"], color="black")
        place_line(line, yb, (bi, li) not in last_lines)
        row += 1

fig.savefig("out.png", dpi=100, facecolor="white")
